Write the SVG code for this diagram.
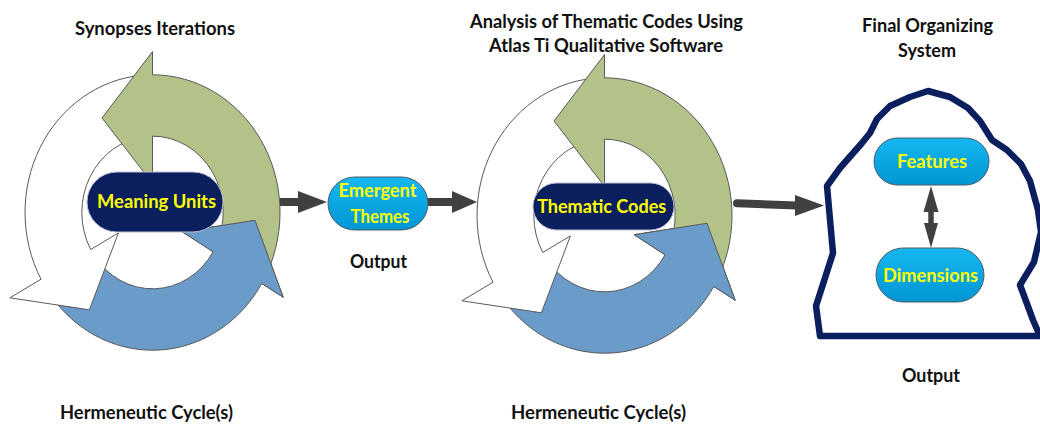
<svg xmlns="http://www.w3.org/2000/svg" xmlns:xlink="http://www.w3.org/1999/xlink" width="1040" height="426" viewBox="0 0 1040 426">
<style>
.t{font-family:Lato,"Liberation Sans","DejaVu Sans",sans-serif;font-weight:700;font-size:18px;fill:#111;text-anchor:middle}
.y{fill:#ffff00}
.arc{stroke:#595959;stroke-width:1;stroke-linejoin:miter;vector-effect:non-scaling-stroke}
.green{fill:#b3c288}
.blue{fill:#6b9bc8}
.white{fill:#ffffff}
.navy{fill:#0b1f5e;stroke:#b8bed0;stroke-width:1}
.cyan{fill:url(#cyanGrad);stroke:#4f5b66;stroke-width:1}
.conn{stroke:#404040;fill:none;stroke-width:8}
.head{fill:#404040}
</style>
<defs>
<linearGradient id="cyanGrad" x1="0" y1="0" x2="0" y2="1">
<stop offset="0" stop-color="#16b7f1"/>
<stop offset="1" stop-color="#0096d4"/>
</linearGradient>
<g id="cycle">
<path class="arc blue" d="M -105.7 71.3 A 127.5 127.5 0 0 0 109.3 65.7 L 130.7 78.5 L 102.5 7.2 L 29.7 17.8 L 60.6 36.4 A 70.7 70.7 0 0 1 -58.6 39.5 Z"/>
<path class="arc white" d="M -11.1 -127.0 A 127.5 127.5 0 0 0 -111.5 61.8 L -142.6 79.0 L -63.1 90.1 L -34.1 18.9 L -61.8 34.3 A 70.7 70.7 0 0 1 -6.2 -70.4 Z"/>
<path class="arc green" d="M 114.6 55.9 A 127.5 127.5 0 0 0 0 -127.5 L 0 -149 L -50.5 -87.5 L 0 -27 L 0 -70.7 A 70.7 70.7 0 0 1 63.5 31.0 Z"/>
<polygon class="blue" points="109.3,65.7 130.7,78.5 102.5,7.2 29.7,17.8 60.6,36.4"/>
<polyline class="arc" fill="none" points="109.3,65.7 130.7,78.5 102.5,7.2 29.7,17.8 60.6,36.4"/>
</g>
</defs>

<g id="cycle-1">
<use xlink:href="#cycle" href="#cycle" transform="translate(152.5,212.5) scale(1,1.08)"/>
</g>
<g id="cycle-2">
<use xlink:href="#cycle" href="#cycle" transform="translate(604.5,215.5) scale(1,1.08)"/>
</g>

<g id="final-system">
<polygon fill="#ffffff" stroke="#0b1f5e" stroke-width="6.5" stroke-linejoin="round" points="820,336 816,306 833,253 827,186 840,168 862,143 870,133 877,119 890,106 910,97 928,91 950,97 968,108 980,121 992,140 1007,150 1021,164 1030,181 1038,210 1041,232 1034,262 1020,285 1033,320 1040,336"/>
</g>

<g id="connectors">
<line class="conn" x1="280" y1="202" x2="300" y2="202"/>
<polygon class="head" points="298,191 327,202 298,213"/>
<line class="conn" x1="427" y1="202" x2="454" y2="202"/>
<polygon class="head" points="452,191 477,202 452,213"/>
<line class="conn" stroke-linecap="round" x1="737" y1="203.3" x2="797" y2="205.5"/>
<polygon class="head" points="795,195 824,205.5 795,216"/>
<line stroke="#404040" stroke-width="5.5" x1="931" y1="210" x2="931" y2="225"/>
<polygon class="head" points="923.5,212 931,186 938.5,212"/>
<polygon class="head" points="924,223 931,248 938,223"/>
</g>

<g id="meaning-units">
<rect class="navy" x="87" y="172" width="136" height="60" rx="30"/>
<text class="t y" x="156.5" y="207.5" font-size="19" textLength="119" lengthAdjust="spacingAndGlyphs">Meaning Units</text>
</g>

<g id="emergent-themes">
<rect class="cyan" x="328" y="177" width="100" height="53" rx="26.5"/>
<text class="t y" x="377.5" y="196.5" font-size="16.5" textLength="78" lengthAdjust="spacingAndGlyphs">Emergent</text>
<text class="t y" x="380" y="222.5" font-size="16.5" textLength="59" lengthAdjust="spacingAndGlyphs">Themes</text>
</g>

<g id="thematic-codes">
<rect class="navy" x="533" y="183" width="141" height="47" rx="23.5"/>
<text class="t y" x="601.7" y="213" font-size="20" textLength="129" lengthAdjust="spacingAndGlyphs">Thematic Codes</text>
</g>

<g id="features">
<rect class="cyan" x="874" y="138" width="115" height="47" rx="23.5"/>
<text class="t y" x="932" y="168" font-size="18.5" textLength="70" lengthAdjust="spacingAndGlyphs">Features</text>
</g>

<g id="dimensions">
<rect class="cyan" x="876" y="248" width="108" height="54" rx="27"/>
<text class="t y" x="930.5" y="282" font-size="19" textLength="95" lengthAdjust="spacingAndGlyphs">Dimensions</text>
</g>

<g id="labels">
<text class="t" x="155" y="35" textLength="160" lengthAdjust="spacingAndGlyphs">Synopses Iterations</text>
<text class="t" x="606.5" y="28" textLength="273" lengthAdjust="spacingAndGlyphs">Analysis of Thematic Codes Using</text>
<text class="t" x="606" y="52" textLength="234" lengthAdjust="spacingAndGlyphs">Atlas Ti Qualitative Software</text>
<text class="t" x="927.5" y="32" textLength="131" lengthAdjust="spacingAndGlyphs">Final Organizing</text>
<text class="t" x="927" y="57" textLength="58" lengthAdjust="spacingAndGlyphs">System</text>
<text class="t" x="378.5" y="268" textLength="57" lengthAdjust="spacingAndGlyphs">Output</text>
<text class="t" x="931" y="382" textLength="58" lengthAdjust="spacingAndGlyphs">Output</text>
<text class="t" x="146.5" y="419" textLength="173" lengthAdjust="spacingAndGlyphs">Hermeneutic Cycle(s)</text>
<text class="t" x="598.5" y="419" textLength="175" lengthAdjust="spacingAndGlyphs">Hermeneutic Cycle(s)</text>
</g>
</svg>
